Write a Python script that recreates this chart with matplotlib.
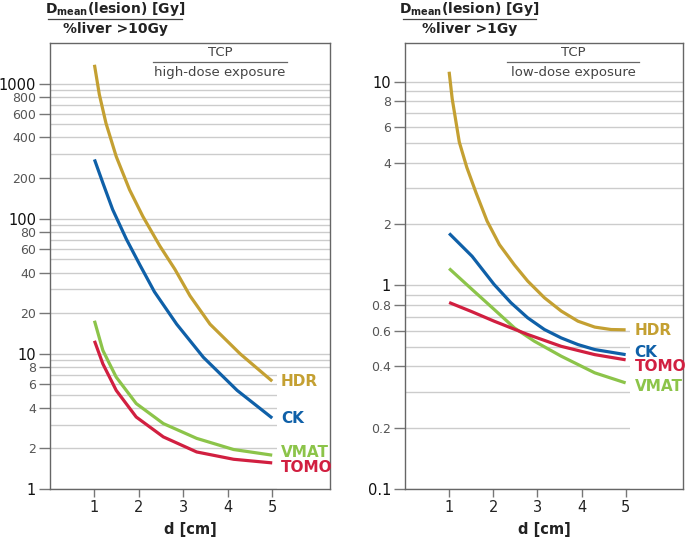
import math

import matplotlib
matplotlib.use('Agg', force=True)
import matplotlib.pyplot as plt
from matplotlib.lines import Line2D
from matplotlib.patches import Rectangle

# left panel: Dmean(lesion) / %liver > 10 Gy (d in cm)
hdr_high_d = [1, 1.11, 1.26, 1.49, 1.79, 2.09, 2.47, 2.81, 3.15, 3.60, 4.28, 5.0]
hdr_high = [1380, 832, 509, 289, 164, 104, 63, 42.3, 26.9, 16.6, 10.0, 6.28]
ck_high_d = [1, 1.19, 1.41, 1.72, 2.02, 2.35, 2.85, 3.45, 4.21, 5.0]
ck_high = [275, 184, 117, 70.5, 45.7, 28.8, 16.6, 9.44, 5.37, 3.35]
vmat_high_d = [1, 1.19, 1.49, 1.94, 2.55, 3.30, 4.13, 5.0]
vmat_high = [17.6, 10.6, 6.73, 4.29, 3.05, 2.37, 1.96, 1.78]
tomo_high_d = [1, 1.19, 1.49, 1.94, 2.55, 3.30, 4.13, 5.0]
tomo_high = [12.5, 8.43, 5.37, 3.41, 2.43, 1.88, 1.66, 1.56]

# right panel: Dmean(lesion) / %liver > 1 Gy
hdr_low_d = [1, 1.07, 1.23, 1.4, 1.61, 1.86, 2.14, 2.48, 2.78, 3.16, 3.54, 3.92, 4.30, 4.67, 5.0]
hdr_low = [11.2, 8.24, 5.06, 3.80, 2.85, 2.07, 1.585, 1.26, 1.05, 0.869, 0.748, 0.667, 0.624, 0.607, 0.605]
ck_low_d = [1, 1.52, 2.02, 2.40, 2.78, 3.16, 3.54, 3.92, 4.30, 5.0]
ck_low = [1.80, 1.39, 1.01, 0.822, 0.693, 0.607, 0.552, 0.512, 0.484, 0.457]
vmat_low_d = [1, 1.52, 2.02, 2.48, 2.93, 3.54, 4.30, 5.0]
vmat_low = [1.21, 0.955, 0.762, 0.618, 0.532, 0.449, 0.372, 0.332]
tomo_low_d = [1, 1.5, 2.02, 2.78, 3.54, 4.30, 5.0]
tomo_low = [0.824, 0.745, 0.667, 0.574, 0.502, 0.457, 0.431]

high_ticks = [1, 2, 4, 6, 8, 10, 20, 40, 60, 80, 100, 200, 400, 600, 800, 1000]
low_ticks = [0.1, 0.2, 0.4, 0.6, 0.8, 1, 2, 4, 6, 8, 10]
decades = [0.1, 1, 10, 100, 1000]
x_ticks = [1, 2, 3, 4, 5]

colors = {'HDR': '#c4a032', 'CK': '#0f60a8', 'VMAT': '#8cc44a', 'TOMO': '#d11f40'}

W, H = 685, 538
fig = plt.figure(figsize=(W / 100, H / 100), dpi=100)


def fx(px):
    return px / W


def fy(py):
    return 1 - py / H


def tick_label(v):
    if v >= 1:
        return f'{v:g}'
    return f'{v:.1f}'


def setup_axes(ax, ylim, ticks, white_top):
    ax.set_yscale('log')
    ax.set_xlim(0, 6.3)
    ax.set_ylim(*ylim)
    ax.set_yticks(ticks)
    ax.set_yticklabels([tick_label(t) for t in ticks])
    lo, hi = ylim
    minor = []
    dec = 10 ** int(round(math.log10(lo)))
    while dec < hi:
        for k in range(1, 10):
            v = k * dec
            if lo < v < hi and not any(abs(v - t) < 1e-9 for t in ticks):
                minor.append(v)
        dec *= 10
    ax.set_yticks(minor, minor=True)
    ax.yaxis.set_minor_formatter(plt.NullFormatter())
    ax.tick_params(axis='y', which='major', direction='out', length=8, width=1, color='#777777', pad=2)
    ax.tick_params(axis='y', which='minor', length=0)
    ax.set_xticks(x_ticks)
    ax.tick_params(axis='x', direction='out', length=6, width=1, color='#777777', labelsize=10.5,
                   labelcolor='#222222', pad=2)
    for lab, t in zip(ax.get_yticklabels(), ticks):
        if any(abs(t - dd) < 1e-9 for dd in decades):
            lab.set_fontsize(10.5)
            lab.set_color('#111111')
        else:
            lab.set_fontsize(9)
            lab.set_color('#555555')
    ax.grid(True, axis='y', which='both', color='#cccccc', linewidth=1)
    ax.set_axisbelow(True)
    for sp in ax.spines.values():
        sp.set_color('#666666')
        sp.set_linewidth(1)
    # labels sit on a white patch that hides the grid lines
    ax.add_patch(Rectangle((5.1, lo), 1.2, white_top - lo, facecolor='white', edgecolor='none', zorder=1))
    ax.set_xlabel('d [cm]', fontsize=10.5, fontweight='bold', color='#222222', labelpad=5)


def draw_curves(ax, series, label_y):
    for name, (xs, ys) in series.items():
        ax.plot(xs, ys, color=colors[name], linewidth=2.3, solid_capstyle='butt',
                solid_joinstyle='round', zorder=2)
        ax.text(5.2, label_y[name], name, color=colors[name], fontsize=11, fontweight='bold',
                va='center', ha='left', zorder=3)


def inner_title(ax, x0, x1, sub):
    xc = (x0 + x1) / 2
    ax.text(xc, 0.978, 'TCP', transform=ax.transAxes, ha='center', va='center', fontsize=9.5, color='#444444')
    ax.add_line(Line2D([x0, x1], [0.957, 0.957], transform=ax.transAxes, color='#666666', linewidth=0.9))
    ax.text(xc, 0.934, sub, transform=ax.transAxes, ha='center', va='center', fontsize=9.5, color='#444444')


def outer_title(x0, x1, bottom):
    xc = (x0 + x1) / 2
    fig.text(fx(xc), fy(9), r'$\mathbf{D_{mean}}$' + '(lesion) [Gy]', ha='center', va='center',
             fontsize=10, fontweight='bold', color='#222222')
    fig.add_artist(Line2D([fx(x0), fx(x1)], [fy(19), fy(19)], color='#444444', linewidth=0.9))
    fig.text(fx(xc), fy(29), bottom, ha='center', va='center', fontsize=10, fontweight='bold', color='#222222')


ax1 = fig.add_axes([fx(50), fy(489), fx(280), 446 / H])
setup_axes(ax1, (1, 2000), high_ticks, 7.5)
draw_curves(ax1, {'HDR': (hdr_high_d, hdr_high), 'CK': (ck_high_d, ck_high),
                  'VMAT': (vmat_high_d, vmat_high), 'TOMO': (tomo_high_d, tomo_high)},
            {'HDR': 6.3, 'CK': 3.3, 'VMAT': 1.87, 'TOMO': 1.45})
inner_title(ax1, 0.368, 0.846, 'high-dose exposure')
outer_title(48, 182, '%liver >10Gy')

ax2 = fig.add_axes([fx(405), fy(489), fx(278), 446 / H])
setup_axes(ax2, (0.1, 15.5), low_ticks, 0.65)
draw_curves(ax2, {'HDR': (hdr_low_d, hdr_low), 'CK': (ck_low_d, ck_low),
                  'VMAT': (vmat_low_d, vmat_low), 'TOMO': (tomo_low_d, tomo_low)},
            {'HDR': 0.6, 'CK': 0.47, 'TOMO': 0.40, 'VMAT': 0.32})
inner_title(ax2, 0.367, 0.842, 'low-dose exposure')
outer_title(403, 536, '%liver >1Gy')

fig.savefig('out.png', dpi=100)
plt.close(fig)
